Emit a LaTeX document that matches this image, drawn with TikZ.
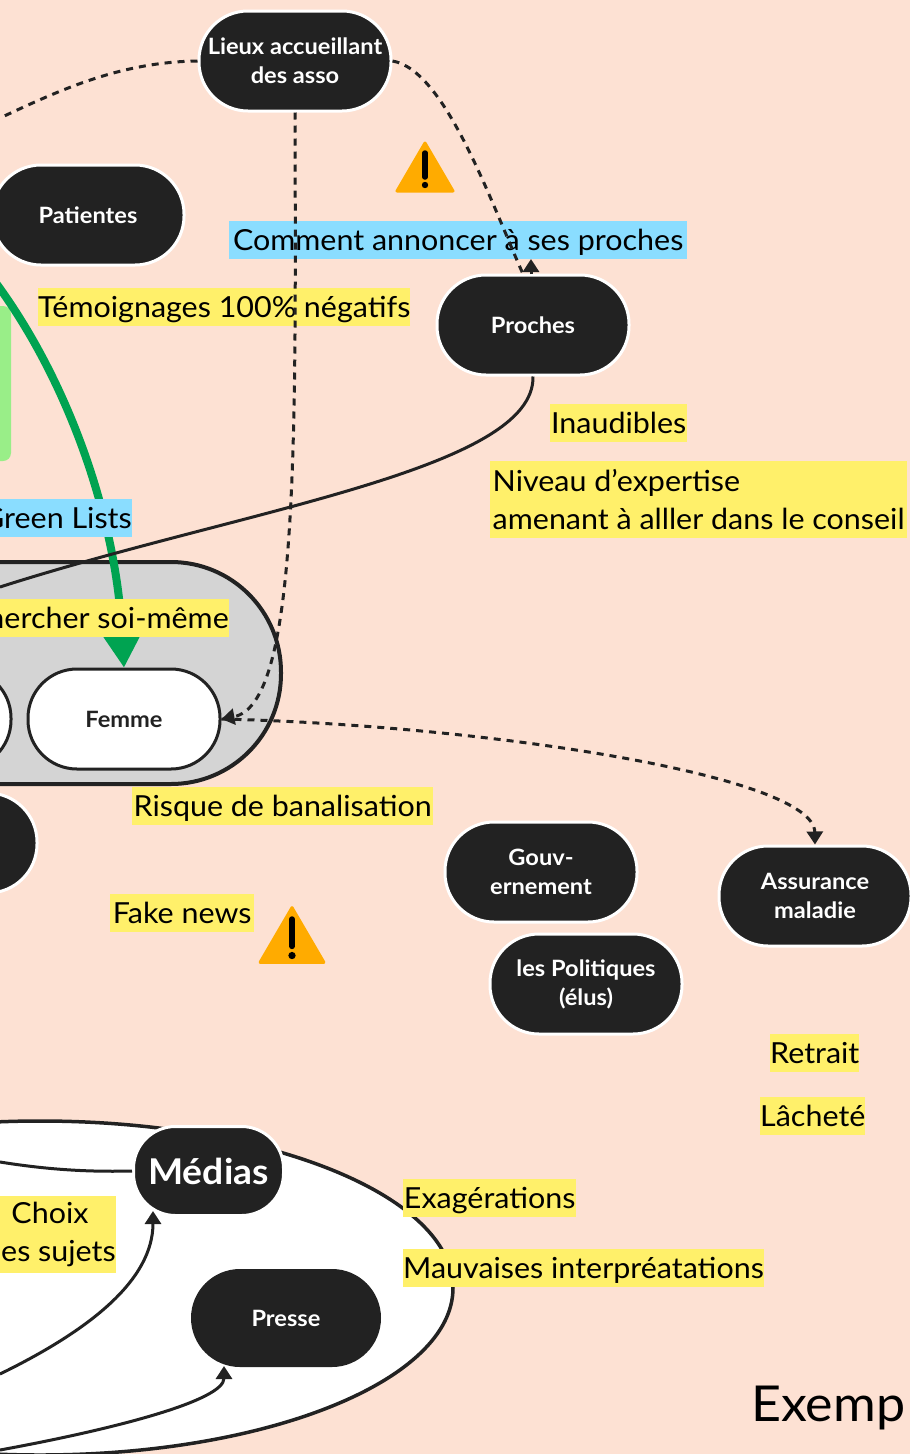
\documentclass[tikz,border=0pt]{standalone}
\usepackage{fontspec}
\setmainfont{Lato}[FakeStretch=1.05]
\usetikzlibrary{arrows.meta,shapes.geometric}
\definecolor{fond}{HTML}{FDE1D3}
\definecolor{sombre}{HTML}{222222}
\definecolor{jaune}{HTML}{FFF06A}
\definecolor{bleu}{HTML}{8ADDFF}
\definecolor{vert}{HTML}{00A351}
\definecolor{vertclair}{HTML}{99EE88}
\definecolor{orange}{HTML}{FFAB00}
\tikzset{
  pilule/.style={rectangle,rounded corners=49pt,fill=sombre,draw=white,line width=3pt,text=white,
    minimum width=192pt,minimum height=100pt,align=center,inner sep=0pt,
    font=\fontsize{22.5}{29}\selectfont\bfseries},
  pileblanche/.style={pilule,fill=white,draw=sombre,text=sombre},
  note/.style={rectangle,fill=jaune,text=black,inner sep=0pt,minimum height=38pt,
    text height=24pt,text depth=3pt,font=\fontsize{29}{38}\selectfont},
  bloc/.style={note,text height=,text depth=,minimum height=77pt},
  bleue/.style={note,fill=bleu},
  trait/.style={draw=sombre,line width=3pt},
  fleche/.style={trait,-{Triangle[length=13pt,width=16pt]}},
  tirets/.style={dash pattern=on 7pt off 6pt},
  attention/.pic={
    \fill[orange,draw=orange,line width=3pt,line join=round] (0,-24) -- (28,24) -- (-28,24) -- cycle;
    \draw[black,line width=5.5pt,line cap=round] (0,-14) -- (0,10);
    \fill[black] (0,18) circle (3.2);
  }
}
\begin{document}
\begin{tikzpicture}[x=1pt,y=-1pt]
    \useasboundingbox (0,0) rectangle (910,1454);
    \clip (0,0) rectangle (910,1454);
    \fill[fond] (0,0) rectangle (910,1454);

    % zones
    \node[rectangle,rounded corners=8pt,fill=vertclair,minimum width=120pt,minimum height=155pt] (listes) at (-49,383.5) {};
    \node[rectangle,rounded corners=110pt,fill=black!17,draw=sombre,line width=4pt,minimum width=780pt,minimum height=222pt] (groupe) at (-109,673) {};
    \node[ellipse,fill=white,draw=sombre,line width=3.5pt,minimum width=826pt,minimum height=334pt,inner sep=0pt] (bulle) at (40,1288) {};

    % noeuds
    \node[pilule] (lieux) at (295,61) {Lieux accueillant\\des asso};
    \node[pilule] (patientes) at (88,215) {Patientes};
    \node[pilule] (proches) at (533,325) {Proches};
    \node[pileblanche] (femme) at (124,719) {Femme};
    \node[pileblanche] (voisine) at (-85,719) {};
    \node[pilule] (sombre) at (-59,843) {};
    \node[pilule] (gouv) at (541,872) {Gouv-\\ernement};
    \node[pilule] (elus) at (586,984) {les Politiques\\(élus)};
    \node[pilule] (assurance) at (815,896) {Assurance\\maladie};
    \node[pilule,minimum width=150pt,minimum height=89pt,rounded corners=42pt,font=\fontsize{35.5}{40}\selectfont\bfseries] (medias) at (208.5,1171) {Médias};
    \node[pilule,draw=none,minimum width=190pt,minimum height=98pt] (presse) at (286,1318) {Presse};

    \coordinate (hautgauche) at (-10,275);
    \coordinate (gauchelieux) at (0,118);
    \coordinate (basproches) at (0,587);
    \coordinate (gauchemedias) at (0,1162);
    \coordinate (basmedias) at (0,1374);
    \coordinate (baspresse) at (0,1450);
    \coordinate (arriveeproches) at (523,274);
    \coordinate (socleproches) at (531,274);
    \coordinate (pointeproches) at (531,259);
    \coordinate (pointemedias) at (153,1211);
    \coordinate (pointepresse) at (224,1366);

    % liens sous les notes
    \draw[vert,line width=8pt,-{Triangle[length=44pt,width=50pt]}] (hautgauche) .. controls (70,380) and (115,520) .. (femme.north);
    \draw[trait] (proches.south) .. controls (535,470) and (240,510) .. (basproches);
    \draw[trait] (medias.west) .. controls (90,1172) and (50,1170) .. (gauchemedias);
    \draw[fleche] (basmedias) .. controls (90,1330) and (153,1280) .. (pointemedias);
    \draw[fleche] (baspresse) .. controls (120,1428) and (224,1400) .. (pointepresse);

    % notes
    \node[bleue,anchor=west,minimum width=458pt] (annoncer) at (229,239.5) {Comment annoncer à ses proches};
    \node[note,anchor=west,minimum width=369pt] (temoignages) at (38,306.5) {Témoignages 100\% négatifs};
    \node[note,anchor=west,minimum width=137pt] (inaudibles) at (550,423) {Inaudibles};
    \node[bloc,anchor=west,minimum width=417pt,align=left] (expertise) at (490,499.5) {Niveau d'expertise\\amenant à alller dans le conseil};
    \node[bleue,anchor=east,align=right] (green) at (132,518) {Green Lists};
    \node[note,anchor=east,align=right] (chercher) at (229,617.5) {chercher soi-même};
    \node[note,anchor=west,minimum width=301pt] (risque) at (132,805.5) {Risque de banalisation};
    \node[note,anchor=west,minimum width=144pt] (fake) at (110,913) {Fake news};
    \node[note,anchor=west,minimum width=86pt] (retrait) at (770,1053) {Retrait};
    \node[note,anchor=west,minimum width=105pt] (lachete) at (760,1116) {Lâcheté};
    \node[note,anchor=west,minimum width=173pt] (exagerations) at (403,1197.5) {Exagérations};
    \node[note,anchor=west,minimum width=357pt] (mauvaises) at (403,1267.5) {Mauvaises interpréatations};
    \node[bloc,anchor=east,align=center] (choix) at (116,1234) {Choix\\des sujets};
    \node[anchor=west,inner sep=0pt,font=\fontsize{49.5}{56}\selectfont] (exemple) at (751,1408) {Exemp};

    \pic at (425,167) {attention};
    \pic[scale=1.14] at (292,935) {attention};

    % liens au-dessus des notes
    \draw[trait,tirets] (lieux.west) .. controls (120,62) and (60,90) .. (gauchelieux);
    \draw[trait,tirets] (lieux.east) .. controls (445,70) and (490,200) .. (arriveeproches);
    \draw[fleche] (socleproches) -- (pointeproches);
    \draw[fleche,tirets] (lieux.south) .. controls (296,450) and (298,705) .. (femme.east);
    \draw[fleche,tirets] (femme.east) .. controls (480,725) and (814,775) .. (assurance.north);
\end{tikzpicture}
\end{document}
